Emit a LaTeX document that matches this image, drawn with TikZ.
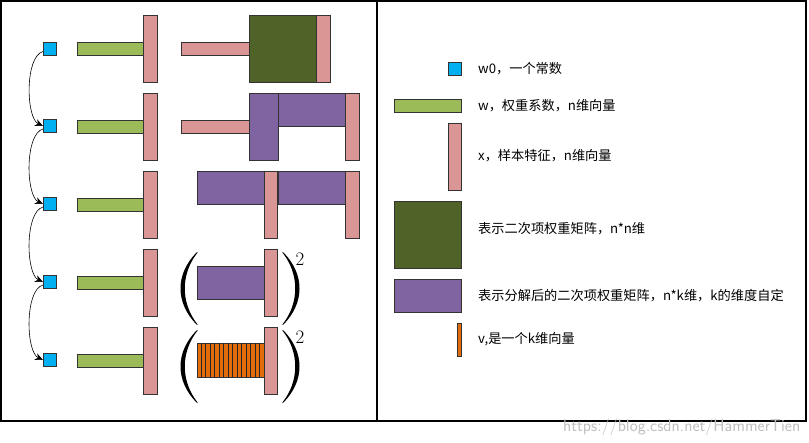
\documentclass[tikz,border=0pt]{standalone}
\usepackage{fontspec}
\newfontfamily\cjk{Noto Sans CJK SC}
\usetikzlibrary{fit,arrows.meta}
\definecolor{cblue}{HTML}{00B0F0}
\definecolor{cgreen}{HTML}{9BBB59}
\definecolor{cpink}{HTML}{D99694}
\definecolor{cdgreen}{HTML}{4F6228}
\definecolor{cpurple}{HTML}{8064A2}
\definecolor{corange}{HTML}{E46C0A}
\tikzset{
  box/.style={draw=black!80, line width=0.9pt, inner sep=0pt, outer sep=0pt},
  bluesq/.style={box, fill=cblue},
  wbar/.style={box, fill=cgreen},
  xbar/.style={box, fill=cpink},
  nnmat/.style={box, fill=cdgreen},
  nkmat/.style={box, fill=cpurple},
  vvec/.style={box, fill=corange},
  stepArrow/.style={draw=black, line width=0.6pt, -{Stealth[length=8pt,width=7pt]}},
  legtext/.style={anchor=west, inner sep=0pt, font=\cjk\fontsize{13.2}{15}\selectfont},
  frame/.style={draw=black, line width=1.3pt},
  sq/.style={inner sep=0pt, font=\fontsize{19}{19}\selectfont}
}
\newcommand{\lparen}[2]{% x of tips, y top
  \fill[black] (#1,#2) .. controls (#1-22,#2+22) and (#1-22,#2+51) .. (#1,#2+73)
    -- (#1+0.6,#2+72.5) .. controls (#1-16.5,#2+51) and (#1-16.5,#2+22) .. (#1+0.6,#2+0.5) -- cycle;}
\newcommand{\rparen}[2]{%
  \fill[black] (#1,#2) .. controls (#1+22,#2+22) and (#1+22,#2+51) .. (#1,#2+73)
    -- (#1-0.6,#2+72.5) .. controls (#1+16.5,#2+51) and (#1+16.5,#2+22) .. (#1-0.6,#2+0.5) -- cycle;}
\begin{document}
\begin{tikzpicture}[x=1pt,y=-1pt]
\useasboundingbox (0,0) rectangle (809,443);
\fill[white] (0,0) rectangle (809,443);
% frames
\node[frame, inner sep=0pt, fit={(1,1)(377,421)}] (leftframe) {};
\node[frame, inner sep=0pt, fit={(377,1)(806,421)}] (rightframe) {};

% w0 squares
\node[bluesq, fit={(43,42)(56,55)}] (s1) {};
\node[bluesq, fit={(43,119.5)(56,132.5)}] (s2) {};
\node[bluesq, fit={(43,197.5)(56,210.5)}] (s3) {};
\node[bluesq, fit={(43,275.5)(56,288.5)}] (s4) {};
\node[bluesq, fit={(43,353.5)(56,366.5)}] (s5) {};
\foreach \a/\b in {s1/s2,s2/s3,s3/s4,s4/s5}
  \draw[stepArrow] ([yshift=-3pt]\a.west) to[out=195,in=155,looseness=0.65] (\b.west);

% row 1
\node[wbar, fit={(77,42)(143,55)}] (w1) {};
\node[xbar, fit={(143,15)(157,82)}] (x1) {};
\node[xbar, fit={(181,42)(249,55)}] (xt1) {};
\node[nnmat, fit={(249,15)(316,82)}] (m1) {};
\node[xbar, fit={(316,15)(330,82)}] (xb1) {};
% row 2
\node[wbar, fit={(77,120)(143,133)}] (w2) {};
\node[xbar, fit={(143,93)(157,160)}] (x2) {};
\node[xbar, fit={(181,120)(249,133)}] (xt2) {};
\node[nkmat, fit={(249,93)(278,160)}] (vt2) {};
\node[nkmat, fit={(278,93)(345,126)}] (v2) {};
\node[xbar, fit={(345,93)(359,160)}] (xb2) {};
% row 3
\node[wbar, fit={(77,198)(143,211)}] (w3) {};
\node[xbar, fit={(143,171)(157,238)}] (x3) {};
\node[nkmat, fit={(197,171)(264,204)}] (va3) {};
\node[xbar, fit={(264,171)(277.5,238)}] (xa3) {};
\node[nkmat, fit={(278,171)(345,204)}] (vb3) {};
\node[xbar, fit={(345,171)(359,238)}] (xb3) {};
% row 4
\node[wbar, fit={(77,276)(143,289)}] (w4) {};
\node[xbar, fit={(143,249)(157,316)}] (x4) {};
\node[nkmat, fit={(197,266)(264,299)}] (v4) {};
\node[xbar, fit={(264,249)(277.5,316)}] (xa4) {};
\lparen{197}{252}
\rparen{283}{252}
\node[sq] (sq4) at (300,259) {2};
% row 5
\node[wbar, fit={(77,354)(143,367)}] (w5) {};
\node[xbar, fit={(143,327)(157,394)}] (x5) {};
\node[vvec, fit={(197,343)(264,377)}] (v5) {};
\foreach \i in {1,...,14}
  \draw[black!85, line width=0.9pt] (197+\i*4.47,343) -- (197+\i*4.47,377);
\node[xbar, fit={(264,327)(277.5,394)}] (xa5) {};
\lparen{197}{330}
\rparen{283}{330}
\node[sq] (sq5) at (300,337) {2};

% legend
\node[bluesq, fit={(448.5,62.5)(461.5,75.5)}] (lg1) {};
\node[legtext] (t1) at (478,69) {w0，一个常数};
\node[wbar, fit={(394,99)(461.5,112)}] (lg2) {};
\node[legtext] (t2) at (478,105.5) {w，权重系数，n维向量};
\node[xbar, fit={(448.5,123)(461.5,190)}] (lg3) {};
\node[legtext] (t3) at (478,156) {x，样本特征，n维向量};
\node[nnmat, fit={(394,201)(461.5,268)}] (lg4) {};
\node[legtext] (t4) at (478,229) {表示二次项权重矩阵，n*n维};
\node[nkmat, fit={(394,279)(461.5,312)}] (lg5) {};
\node[legtext] (t5) at (478,296) {表示分解后的二次项权重矩阵，n*k维，k的维度自定};
\node[vvec, fit={(457,323)(461.5,356)}] (lg6) {};
\node[legtext] (t6) at (478,339) {v,是一个k维向量};

% watermark
\node[anchor=west, inner sep=0pt, text=black!25, font=\sffamily\fontsize{17}{17}\selectfont] (wm) at (563,427) {https://blog.csdn.net/HammerTien};
\end{tikzpicture}
\end{document}
